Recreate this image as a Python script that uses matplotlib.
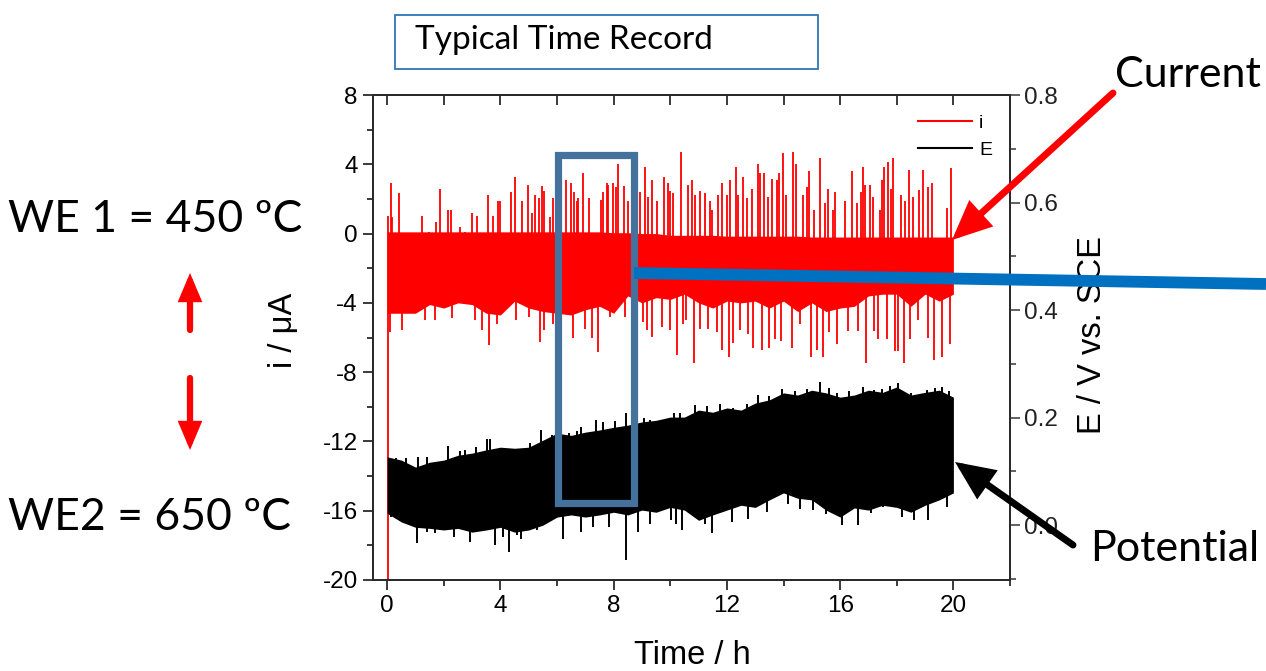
import numpy as np
import matplotlib
matplotlib.use("Agg")
import matplotlib.pyplot as plt
from matplotlib.lines import Line2D
from matplotlib.patches import Rectangle, FancyArrowPatch
from matplotlib.ticker import MultipleLocator, FormatStrFormatter

plt.rcParams['axes.unicode_minus'] = False
plt.rcParams['font.family'] = ['Liberation Sans', 'DejaVu Sans']

# ---------------------------------------------------------------- data
# sampling times of the band envelopes (h)
t_grid = [0.0, 0.5, 1.0, 1.5, 2.0, 2.5, 3.0, 3.5, 4.0, 4.5, 5.0, 5.5, 6.0, 6.5,
          7.0, 7.5, 8.0, 8.5, 9.0, 9.5, 10.0, 10.5, 11.0, 11.5, 12.0, 12.5,
          13.0, 13.5, 14.0, 14.5, 15.0, 15.5, 16.0, 16.5, 17.0, 17.5, 18.0,
          18.5, 19.0, 19.5, 20.0]

# current i (uA): upper / lower edge of the dense noise band
i_high = [0.1, 0.1, 0.1, 0.1, 0.1, 0.1, 0.1, 0.1, 0.1, 0.1, 0.1, 0.1, 0.1, 0.1,
          0.1, 0.1, 0.05, 0.05, 0.0, 0.0, -0.1, -0.1, -0.1, -0.1, -0.15, -0.15,
          -0.15, -0.15, -0.15, -0.15, -0.2, -0.2, -0.2, -0.2, -0.2, -0.2, -0.2,
          -0.2, -0.2, -0.2, -0.2]
i_low = [-4.6, -4.6, -4.6, -4.1, -4.3, -4.0, -4.1, -4.6, -4.7, -3.9, -4.3, -4.5,
         -4.6, -4.7, -4.4, -4.2, -4.6, -3.6, -4.0, -3.7, -3.8, -3.5, -4.0, -4.3,
         -3.9, -4.0, -3.9, -4.3, -3.9, -4.5, -4.0, -4.5, -4.3, -4.2, -3.6, -3.5,
         -3.5, -4.2, -3.5, -3.9, -3.5]

# positive current transients (time h, peak uA)
i_up_t = [0.12, 0.17, 0.41, 1.24, 1.49, 1.74, 1.86, 2.16, 2.25, 2.57, 2.74, 3.00,
          3.18, 3.57, 3.75, 3.92, 4.00, 4.36, 4.50, 4.75, 4.98, 5.13, 5.23, 5.36,
          5.48, 5.55, 5.75, 5.87, 6.31, 6.48, 6.60, 6.69, 6.73, 6.93, 7.13, 7.55,
          7.63, 7.75, 7.81, 7.99, 8.07, 8.16, 8.36, 8.52, 8.93, 9.11, 9.20, 9.34,
          9.52, 9.79, 9.91, 9.99, 10.08, 10.38, 10.64, 10.78, 10.88, 11.05, 11.23,
          11.40, 11.49, 11.67, 11.84, 11.99, 12.11, 12.31, 12.41, 12.58, 12.70,
          12.88, 13.09, 13.17, 13.32, 13.44, 13.61, 13.76, 13.85, 13.99, 14.08,
          14.35, 14.43, 14.68, 14.82, 14.90, 15.07, 15.29, 15.46, 15.58, 15.76,
          15.82, 16.17, 16.43, 16.58, 16.73, 16.82, 16.88, 17.06, 17.17, 17.41,
          17.49, 17.56, 17.68, 17.80, 17.86, 18.15, 18.29, 18.45, 18.59, 18.79,
          18.94, 19.12, 19.24, 19.77, 19.92]
i_up_v = [2.94, 0.98, 2.36, 1.02, 0.10, 0.69, 2.56, 1.36, 1.36, 0.40, 0.10, 1.17,
          1.00, 2.23, 1.00, 1.88, 1.88, 2.42, 3.29, 1.90, 2.81, 1.17, 2.23, 2.04,
          2.75, 2.48, 0.98, 2.04, 3.09, 2.94, 2.42, 1.86, 2.04, 3.48, 2.04, 1.94,
          2.42, 2.94, 2.81, 2.94, 2.71, 4.02, 2.75, 1.88, 2.42, 3.83, 2.13, 3.09,
          1.86, 3.29, 2.90, 2.48, 2.36, 4.73, 2.81, 3.09, 2.23, 2.48, 2.36,
          1.86, 1.36, 2.23, 2.90, 2.23, 3.09, 3.83, 2.23, 3.29, 2.04,
          2.58, 4.02, 3.48, 3.48, 2.13, 3.13, 3.09, 3.48, 4.67, 2.23,
          4.73, 4.02, 2.23, 2.71, 3.63, 1.36, 4.35, 1.75, 2.58, 1.36,
          2.42, 1.86, 3.63, 1.75, 2.42, 3.87, 2.81, 2.81, 2.13, 1.36,
          3.09, 3.83, 4.15, 2.58, 4.35, 2.23, 1.86, 3.67, 2.10, 2.52,
          3.67, 2.71, 2.94, 1.46, 3.77]

# negative current transients (time h, trough uA)
i_dn_t = [0.10, 0.54, 1.34, 1.69, 2.28, 3.10, 3.34, 3.60, 3.88, 4.54, 5.01, 5.40,
          5.55, 5.86, 6.57, 6.98, 7.22, 7.46, 7.87, 8.40, 9.05, 9.17, 9.34, 9.70,
          9.99, 10.23, 10.45, 10.57, 10.85, 11.05, 11.34, 11.64, 11.82, 12.08,
          12.22, 12.46, 12.75, 12.91, 13.23, 13.49, 13.71, 13.92, 14.29, 14.58,
          14.96, 15.17, 15.41, 15.59, 15.88, 16.29, 16.64, 16.92, 17.18, 17.35,
          17.65, 17.94, 18.05, 18.26, 18.47, 18.76, 19.12, 19.33, 19.59, 19.88]
i_dn_v = [-5.7, -5.57, -5.0, -5.0, -4.85, -5.0, -5.57, -6.43, -5.2, -5.0, -4.8,
          -6.24, -5.57, -5.2, -6.0, -5.5, -6.0, -6.82, -4.8, -4.8, -5.1, -5.57,
          -5.95, -5.4, -5.57, -7.01, -5.2, -5.0, -7.49, -5.5, -5.5, -5.7, -6.72,
          -7.1, -6.3, -5.57, -5.8, -6.6, -6.7, -6.6, -6.1, -6.2, -6.6, -5.2,
          -7.1, -6.7, -7.1, -5.7, -6.4, -5.6, -5.6, -7.5, -5.6, -6.1, -6.1,
          -6.8, -6.8, -7.45, -6.1, -5.0, -6.0, -7.3, -7.1, -6.4]

# switch-on transient at the very start of the record
i_start_t = 0.02
i_start_range = [-20.0, 1.0]

# potential E (V vs. SCE): upper / lower edge of the dense noise band
E_high = [0.127, 0.121, 0.108, 0.117, 0.121, 0.130, 0.134, 0.140, 0.145, 0.143,
          0.145, 0.158, 0.171, 0.167, 0.173, 0.177, 0.182, 0.186, 0.192, 0.195,
          0.201, 0.201, 0.214, 0.210, 0.218, 0.214, 0.227, 0.233, 0.246, 0.242,
          0.251, 0.246, 0.238, 0.242, 0.251, 0.247, 0.257, 0.242, 0.247, 0.251,
          0.238]
E_low = [0.022, 0.006, -0.004, -0.006, -0.009, -0.006, -0.013, -0.009, -0.004,
         -0.013, -0.009, 0.000, 0.015, 0.019, 0.015, 0.019, 0.024, 0.019, 0.028,
         0.024, 0.033, 0.028, 0.009, 0.019, 0.028, 0.037, 0.033, 0.047, 0.060,
         0.050, 0.047, 0.028, 0.015, 0.032, 0.028, 0.037, 0.033, 0.024, 0.037,
         0.047, 0.060]

# positive / negative potential excursions (time h, E in V)
E_up_t = [0.33, 0.68, 1.10, 1.39, 2.16, 2.57, 2.75, 3.14, 3.51, 3.63, 4.04, 4.39,
          4.45, 5.04, 5.43, 5.81, 6.43, 6.69, 6.84, 7.37, 7.63, 8.04, 8.43, 9.06,
          9.28, 10.12, 10.34, 10.87, 11.30, 11.75, 12.23, 12.70, 13.11, 13.50,
          13.94, 14.40, 14.82, 15.29, 15.60, 15.88, 16.30, 16.82, 17.20, 17.47,
          17.75, 18.06, 18.50, 19.06, 19.35, 19.59, 19.85]
E_up_v = [0.125, 0.124, 0.127, 0.127, 0.147, 0.137, 0.140, 0.146, 0.160, 0.161,
          0.143, 0.140, 0.135, 0.152, 0.177, 0.167, 0.171, 0.175, 0.182, 0.195,
          0.192, 0.194, 0.208, 0.199, 0.195, 0.208, 0.208, 0.223, 0.221, 0.226,
          0.217, 0.226, 0.242, 0.240, 0.254, 0.250, 0.254, 0.267, 0.255, 0.245,
          0.250, 0.257, 0.252, 0.254, 0.258, 0.264, 0.245, 0.251, 0.255, 0.257,
          0.250]
E_dn_t = [0.12, 0.63, 1.06, 1.39, 1.68, 2.04, 2.35, 2.69, 2.91, 3.30, 3.82, 4.10,
          4.29, 4.57, 4.74, 5.28, 6.21, 6.84, 7.28, 7.84, 8.43, 8.86, 9.28, 10.04,
          10.22, 10.40, 11.23, 11.46, 12.17, 12.76, 13.40, 14.17, 14.60, 15.05,
          15.50, 16.05, 16.64, 17.10, 17.52, 18.17, 18.60, 19.11, 19.76]
E_dn_v = [0.015, 0.013, -0.034, -0.012, -0.014, -0.003, -0.022, -0.009, -0.031,
          -0.009, -0.037, -0.022, -0.050, -0.019, -0.025, -0.009, -0.025, -0.012,
          -0.003, -0.003, -0.065, -0.012, 0.003, 0.009, 0.003, -0.009, 0.003,
          -0.014, 0.005, 0.012, 0.025, 0.040, 0.030, 0.028, 0.020, 0.000, 0.000,
          0.022, 0.034, 0.015, 0.010, 0.009, 0.034]

# highlighted time window (h) and current span (uA)
window_t = [6.03, 8.72]
window_i = [-15.55, 4.54]

# ---------------------------------------------------------------- figure
W, H = 1266, 671
fig = plt.figure(figsize=(W / 100, H / 100), dpi=100)
ax = fig.add_axes([373 / W, 1 - 580 / H, (1010 - 373) / W, (580 - 95) / H])
ax2 = ax.twinx()


def fx(x):
    return x / W


def fy(y):
    return 1 - y / H


red = '#ff0000'
ax.fill_between(t_grid, i_low, i_high, color=red, lw=0, zorder=2)
ax.vlines(i_up_t, -0.6, i_up_v, color=red, lw=1.3, zorder=2)
ax.vlines(i_dn_t, i_dn_v, -3.0, color=red, lw=1.3, zorder=2)
ax.vlines([i_start_t], i_start_range[0], i_start_range[1], color=red, lw=1.3, zorder=2)

ax2.fill_between(t_grid, E_low, E_high, color='black', lw=0, zorder=2)
ax2.vlines(E_up_t, 0.1, E_up_v, color='black', lw=1.4, zorder=2)
ax2.vlines(E_dn_t, E_dn_v, 0.1, color='black', lw=1.4, zorder=2)

# axes ranges and ticks
ax.set_xlim(-0.5, 22)
ax.set_ylim(-20, 8)
ax2.set_ylim(-0.102, 0.8)
ax.xaxis.set_major_locator(MultipleLocator(4))
ax.xaxis.set_minor_locator(MultipleLocator(2))
ax.yaxis.set_major_locator(MultipleLocator(4))
ax.yaxis.set_minor_locator(MultipleLocator(2))
ax2.yaxis.set_major_locator(MultipleLocator(0.2))
ax2.yaxis.set_minor_locator(MultipleLocator(0.1))
ax2.yaxis.set_major_formatter(FormatStrFormatter('%.1f'))

spine_c = '#2b2b2b'
for a in (ax, ax2):
    for s in a.spines.values():
        s.set_color(spine_c)
        s.set_linewidth(1.4)
ax.tick_params(axis='both', which='major', direction='out', length=7, width=1.3,
               labelsize=17.5, color=spine_c, pad=4)
ax.tick_params(axis='both', which='minor', direction='out', length=4, width=1.3,
               color=spine_c)
ax2.tick_params(axis='y', which='major', direction='out', length=7, width=1.3,
                labelsize=17.5, color='#555555', pad=3, labelcolor='#222222')
ax2.tick_params(axis='y', which='minor', direction='out', length=4, width=1.3,
                color='#555555')
top = ax.secondary_xaxis('top')
top.xaxis.set_major_locator(MultipleLocator(2))
top.tick_params(axis='x', which='major', direction='in', length=7, width=1.3,
                color=spine_c, labeltop=False)
top.spines['top'].set_visible(False)

ax.set_xlabel('Time / h', fontsize=23.5, va='center')
ax.xaxis.set_label_coords(0.502, -0.155)
ax.set_ylabel('i / μA', fontsize=23.5, va='center', ha='center')
ax.yaxis.set_label_coords(-0.141, 0.515)
ax2.set_ylabel('E / V vs. SCE', fontsize=23.5, va='center', ha='center')
ax2.yaxis.set_label_coords(1.129, 0.505)

handles = [Line2D([], [], color=red, lw=1.5), Line2D([], [], color='black', lw=1.5)]
ax2.legend(handles, ['i', 'E'], loc='upper right', bbox_to_anchor=(0.99, 0.985),
           frameon=False, fontsize=14, handlelength=2.8, handletextpad=0.35,
           labelspacing=0.5, borderaxespad=0.2)

# highlighted window
ax2.add_patch(Rectangle((window_t[0], window_i[0]), window_t[1] - window_t[0],
                        window_i[1] - window_i[0], transform=ax.transData,
                        fill=False, ec='#45719d', lw=5.2, zorder=5, clip_on=False))

# annotations around the plot
ann_font = ['Lato', 'DejaVu Sans']
fig.patches.append(Rectangle((fx(395), fy(69)), fx(818) - fx(395), fy(15) - fy(69),
                             transform=fig.transFigure, fill=False, ec='#2e75b6',
                             lw=1.3))
fig.text(fx(415), fy(49), 'Typical Time Record', fontsize=24, family=ann_font,
         ha='left', va='baseline')
fig.text(fx(1115), fy(87), 'Current', fontsize=31, family=ann_font, ha='left',
         va='baseline')
fig.text(fx(1090), fy(561), 'Potential', fontsize=31, family=ann_font, ha='left',
         va='baseline')
fig.text(fx(8), fy(232), 'WE 1 = 450 ºC', fontsize=32, family=ann_font, ha='left',
         va='baseline')
fig.text(fx(8), fy(530), 'WE2 = 650 ºC', fontsize=32, family=ann_font, ha='left',
         va='baseline')


def arrow(p0, p1, color, lw, hl, hw):
    fig.patches.append(FancyArrowPatch(
        (fx(p0[0]), fy(p0[1])), (fx(p1[0]), fy(p1[1])), transform=fig.transFigure,
        arrowstyle=f'-|>,head_length={hl},head_width={hw}', mutation_scale=1,
        color=color, lw=lw, shrinkA=0, shrinkB=0, joinstyle='miter'))


arrow((1113, 93), (952, 240), red, 5, 20, 9)
arrow((1073, 545), (955, 462), 'black', 5, 20, 9)
arrow((190, 330), (190, 273), red, 4.5, 13, 5.5)
arrow((190, 378), (190, 450), red, 4.5, 13, 5.5)

# link from the highlighted window to the right-hand side
fig.add_artist(Line2D([fx(634), fx(1266)], [fy(273), fy(284)],
                      transform=fig.transFigure, color='#0070c0', lw=8.5,
                      solid_capstyle='butt'))

fig.savefig('out.png', dpi=100)
